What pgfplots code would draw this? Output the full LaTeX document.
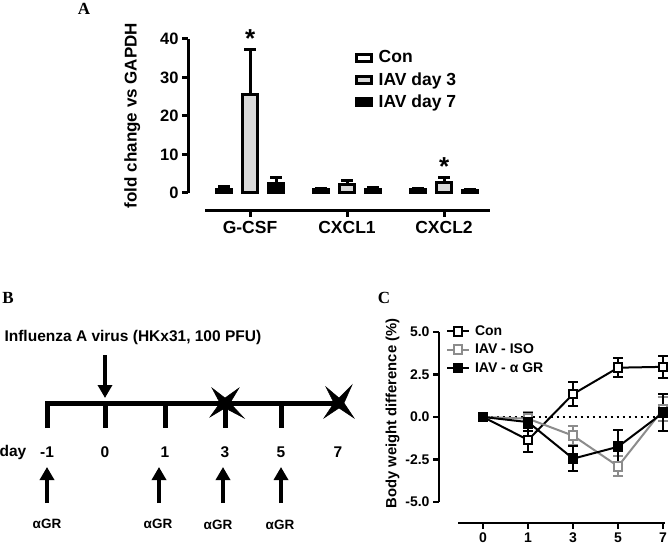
\documentclass[border=0pt]{standalone}
\usepackage{pgfplots}
\pgfplotsset{compat=1.18}
\usepackage{pgfplotstable}
\usepackage{fontspec}
\setmainfont{Liberation Sans}
\newfontfamily\seriffont{Liberation Serif}
\usetikzlibrary{arrows.meta}
\definecolor{lgray}{gray}{0.85}
\definecolor{isogray}{gray}{0.55}
\newcommand{\fA}{\fontsize{16.5}{19}\selectfont\bfseries}
\newcommand{\fAL}{\fontsize{17}{20}\selectfont\bfseries}
\newcommand{\fAX}{\fontsize{17.5}{20}\selectfont\bfseries}
\newcommand{\fALeg}{\fontsize{17.5}{20}\selectfont\bfseries}
\newcommand{\fB}{\fontsize{15.5}{18}\selectfont\bfseries}
\newcommand{\fBa}{\fontsize{13.5}{16}\selectfont\bfseries}
\newcommand{\fC}{\fontsize{14.8}{17}\selectfont\bfseries}
\newcommand{\fCt}{\fontsize{14}{16}\selectfont\bfseries}

% Panel A data
\pgfplotstableread{
x y e
0 1.0 0.6
1 0.8 0.4
2 0.8 0.4
}\conA
\pgfplotstableread{
x y e
0 25.5 11.8
1 2.2 1.0
2 2.8 1.3
}\dthreeA
\pgfplotstableread{
x y e
0 2.5 1.6
1 1.0 0.5
2 0.6 0.3
}\dsevenA
% Panel C data
\pgfplotstableread{
x y e
0 0 0
1 -1.35 0.7
2 1.35 0.7
3 2.9 0.55
4 2.95 0.65
}\conC
\pgfplotstableread{
x y e
0 0 0
1 -0.1 0.4
2 -1.1 0.55
3 -2.9 0.6
4 0.45 0.7
}\isoC
\pgfplotstableread{
x y e
0 0 0
1 -0.3 0.55
2 -2.45 0.75
3 -1.75 1.0
4 0.25 1.1
}\grC

\begin{document}
\begin{tikzpicture}
\useasboundingbox (0,0) rectangle (670pt,544pt);

% ---------------- Panel A ----------------
\begin{axis}[
  at={(188pt,351pt)}, anchor=south west,
  x=97pt, y=3.85pt,
  xmin=-0.64, xmax=2.47, ymin=0, ymax=40,
  axis x line=none, axis y line=left,
  axis line style={-, line width=3pt},
  ytick={0,10,20,30,40},
  tick align=outside, major tick length=6pt,
  tick style={black, line width=3pt},
  yticklabel style={font=\fA},
  /pgf/number format/assume math mode=true,
  ylabel={fold change vs GAPDH},
  ylabel style={font=\fAL, at={(axis description cs:-0.185,0.503)}, anchor=center},
  clip=false,
  legend style={at={(axis description cs:0.552,0.938)}, anchor=north west, draw=none, fill=none,
    font=\fALeg, row sep=4pt, inner sep=0pt, column sep=4pt},
  legend cell align=left,
]
\addplot[ybar, bar width=15pt, bar shift=0pt, fill=white, draw=black, line width=3pt,
  legend image code/.code={\draw[fill=white, draw=black, line width=3pt] (0pt,-3.5pt) rectangle (15pt,3.5pt);},
  error bars/.cd, y dir=plus, y explicit, error bar style={line width=3pt, black},
  error mark options={rotate=90, mark size=6pt, line width=3pt, black}]
  table[x expr=\thisrow{x}-0.268, y=y, y error=e] {\conA};
\addlegendentry{Con}
\addplot[ybar, bar width=15pt, bar shift=0pt, fill=lgray, draw=black, line width=3pt,
  legend image code/.code={\draw[fill=lgray, draw=black, line width=3pt] (0pt,-3.5pt) rectangle (15pt,3.5pt);},
  error bars/.cd, y dir=plus, y explicit, error bar style={line width=3pt, black},
  error mark options={rotate=90, mark size=6pt, line width=3pt, black}]
  table[x=x, y=y, y error=e] {\dthreeA};
\addlegendentry{IAV day 3}
\addplot[ybar, bar width=15pt, bar shift=0pt, fill=black, draw=black, line width=3pt,
  legend image code/.code={\draw[fill=black, draw=black, line width=3pt] (0pt,-3.5pt) rectangle (15pt,3.5pt);},
  error bars/.cd, y dir=plus, y explicit, error bar style={line width=3pt, black},
  error mark options={rotate=90, mark size=6pt, line width=3pt, black}]
  table[x expr=\thisrow{x}+0.268, y=y, y error=e] {\dsevenA};
\addlegendentry{IAV day 7}
\node[font=\fontsize{26}{26}\selectfont\bfseries] at (axis cs:0,40.2) {*};
\node[font=\fontsize{26}{26}\selectfont\bfseries] at (axis cs:2,6.9) {*};
\end{axis}

\begin{axis}[
  at={(205pt,333pt)}, anchor=south west,
  x=97pt, y=1pt, xmin=-0.464, xmax=2.474, ymin=0, ymax=1,
  axis y line=none, axis x line=bottom,
  axis line style={-, line width=3pt},
  xtick={0,1,2}, xticklabels={G-CSF,CXCL1,CXCL2},
  tick align=outside, major tick length=6pt, tick style={black, line width=3pt},
  xticklabel style={font=\fAX, yshift=-1pt},
]
\addplot[draw=none] coordinates {(0,0)};
\end{axis}

% ---------------- Panel B ----------------
\begin{axis}[
  at={(0pt,244pt)}, anchor=north west,
  x=1pt, y=1pt, xmin=0, xmax=340, ymin=300, ymax=544, y dir=reverse,
  hide axis, clip=false,
]
\addplot[line width=5pt, line join=miter] coordinates {(47,428) (47,403) (338,403)};
\addplot[line width=5pt] coordinates {(105,403) (105,428)};
\addplot[line width=5pt] coordinates {(165,403) (165,428)};
\addplot[line width=5pt] coordinates {(225,403) (225,428)};
\addplot[line width=5pt] coordinates {(281,403) (281,428)};
% crosses
\addplot[fill=black, draw=black, line width=0.5pt] coordinates {(212,388) (225,398) (239,388) (230,403) (244,418) (225,408) (210,417) (220,403)} --cycle;
\addplot[fill=black, draw=black, line width=0.5pt] coordinates {(326,387) (339,398) (352,385) (344,403) (354,418) (339,408) (324,418) (334,403)} --cycle;
% arrows
\addplot[line width=4pt, -{Triangle[width=14pt,length=13pt]}] coordinates {(105,355) (105,398)};
\addplot[line width=4pt, -{Triangle[width=14pt,length=13pt]}] coordinates {(47,503) (47,467)};
\addplot[line width=4pt, -{Triangle[width=14pt,length=13pt]}] coordinates {(159,503) (159,467)};
\addplot[line width=4pt, -{Triangle[width=14pt,length=13pt]}] coordinates {(223,503) (223,467)};
\addplot[line width=4pt, -{Triangle[width=14pt,length=13pt]}] coordinates {(281,503) (281,467)};
% text
\node[font=\fB, anchor=west] at (axis cs:1,337) {Influenza A virus (HKx31, 100 PFU)};
\node[font=\fB] at (axis cs:13,452) {day};
\node[font=\fB] at (axis cs:47,452) {-1};
\node[font=\fB] at (axis cs:105,452) {0};
\node[font=\fB] at (axis cs:165,452) {1};
\node[font=\fB] at (axis cs:225,452) {3};
\node[font=\fB] at (axis cs:281,452) {5};
\node[font=\fB] at (axis cs:338,452) {7};
\node[font=\fBa] at (axis cs:47,524) {αGR};
\node[font=\fBa] at (axis cs:158,524) {αGR};
\node[font=\fBa] at (axis cs:218,525) {αGR};
\node[font=\fBa] at (axis cs:280,525) {αGR};
\end{axis}

% ---------------- Panel C ----------------
\begin{axis}[
  at={(439pt,42pt)}, anchor=south west,
  x=45pt, y=17pt, xmin=-0.98, xmax=4.1, ymin=-5, ymax=5,
  axis x line=none, axis y line=left,
  axis line style={-, line width=2.5pt},
  ytick={-5,-2.5,0,2.5,5}, yticklabels={-5.0,-2.5,0.0,2.5,5.0},
  tick align=outside, major tick length=6pt, tick style={black, line width=2.5pt},
  yticklabel style={font=\fCt},
  ylabel={Body weight difference (\%)},
  ylabel style={font=\fC, at={(axis description cs:-0.203,0.52)}, anchor=center},
  clip=false,
  legend style={at={(axis description cs:0.03,1.05)}, anchor=north west, draw=none, fill=none,
    font=\fontsize{14}{16}\selectfont\bfseries, row sep=3pt, inner sep=0pt, column sep=3pt},
  legend cell align=left,
  legend image code/.code={\draw[mark repeat=2, mark phase=2, #1] plot coordinates {(0pt,0pt) (11pt,0pt) (22pt,0pt)};},
]
\addplot[black, dash pattern=on 2pt off 4pt, line width=1.8pt, forget plot] coordinates {(-0.1,0) (4.05,0)};
\addplot[black, line width=2pt, mark=square*, mark size=4.3pt, mark options={fill=white, draw=black, line width=2pt, solid},
  error bars/.cd, y dir=both, y explicit, error bar style={line width=2pt, black},
  error mark options={rotate=90, mark size=5pt, line width=2pt, black}]
  table[x=x, y=y, y error=e] {\conC};
\addlegendentry{Con}
\addplot[isogray, line width=2pt, mark=square*, mark size=4.3pt, mark options={fill=white, draw=isogray, line width=2pt, solid},
  error bars/.cd, y dir=both, y explicit, error bar style={line width=2pt, isogray},
  error mark options={rotate=90, mark size=5pt, line width=2pt, isogray}]
  table[x=x, y=y, y error=e] {\isoC};
\addlegendentry{IAV - ISO}
\addplot[black, line width=2pt, mark=square*, mark size=4.3pt, mark options={fill=black, draw=black, line width=2pt, solid},
  error bars/.cd, y dir=both, y explicit, error bar style={line width=2pt, black},
  error mark options={rotate=90, mark size=5pt, line width=2pt, black}]
  table[x=x, y=y, y error=e] {\grC};
\addlegendentry{IAV - α GR}
\end{axis}

\begin{axis}[
  at={(458pt,21pt)}, anchor=south west,
  x=45pt, y=1pt, xmin=-0.556, xmax=4.04, ymin=0, ymax=1,
  axis y line=none, axis x line=bottom,
  axis line style={-, line width=2.5pt},
  xtick={0,1,2,3,4}, xticklabels={0,1,3,5,7},
  tick align=outside, major tick length=6pt, tick style={black, line width=2.5pt},
  xticklabel style={font=\fCt},
]
\addplot[draw=none] coordinates {(0,0)};
\end{axis}

% panel letters
\node[font=\seriffont\bfseries\fontsize{17}{17}\selectfont] at (84pt,535pt) {A};
\node[font=\seriffont\bfseries\fontsize{17}{17}\selectfont] at (8pt,246pt) {B};
\node[font=\seriffont\bfseries\fontsize{17}{17}\selectfont] at (384pt,246pt) {C};
\end{tikzpicture}
\end{document}
